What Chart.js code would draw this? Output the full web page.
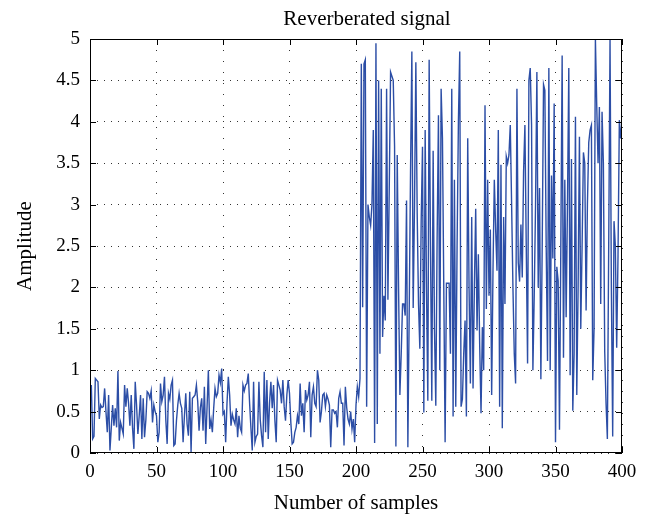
<!DOCTYPE html>
<html>
<head>
<meta charset="utf-8">
<title>Reverberated signal</title>
<script src="https://cdn.jsdelivr.net/npm/chart.js@4.4.1/dist/chart.umd.min.js"></script>
<style>
  html, body { margin: 0; padding: 0; background: #fff; }
  #wrap { width: 658px; height: 517px; }
</style>
</head>
<body>
<div id="wrap"><canvas id="signalChart" width="658" height="517"></canvas></div>
<script>
// Axis ticks
const sampleTicks = [0, 50, 100, 150, 200, 250, 300, 350, 400];
const amplitudeTicks = [0, 0.5, 1, 1.5, 2, 2.5, 3, 3.5, 4, 4.5, 5];

// Samples 1..200 (before the reverberation kicks in)
const quietPart = [
  0.82, 0.17, 0.20, 0.90, 0.88, 0.86, 0.41, 0.58, 0.55, 0.56,
  0.78, 0.50, 0.25, 0.70, 0.03, 0.30, 0.58, 0.33, 0.54, 0.31,
  0.99, 0.15, 0.37, 0.30, 0.23, 0.82, 0.56, 0.78, 0.60, 0.33,
  0.70, 0.30, 0.05, 0.86, 0.58, 0.23, 0.45, 0.70, 0.17, 0.66,
  0.19, 0.40, 0.74, 0.72, 0.66, 0.75, 0.37, 0.58, 0.50, 0.45,
  0.13, 0.25, 0.84, 0.62, 0.70, 0.92, 0.40, 0.11, 0.72, 0.65,
  0.82, 0.88, 0.09, 0.11, 0.39, 0.58, 0.72, 0.60, 0.54, 0.13,
  0.45, 0.72, 0.35, 0.21, 0.74, 0.01, 0.66, 0.68, 0.70, 0.82,
  0.62, 0.27, 0.55, 0.66, 0.27, 0.80, 0.11, 0.55, 1.00, 0.29,
  0.40, 0.25, 0.54, 0.78, 0.68, 0.72, 0.94, 0.85, 1.02, 0.47,
  0.50, 0.13, 0.60, 0.92, 0.70, 0.33, 0.47, 0.40, 0.35, 0.54,
  0.19, 0.45, 0.30, 0.25, 0.82, 0.75, 0.82, 0.84, 0.96, 0.60,
  0.30, 0.03, 0.86, 0.13, 0.20, 0.23, 0.86, 0.40, 0.21, 0.07,
  0.98, 0.25, 0.88, 0.17, 0.60, 0.86, 0.54, 0.82, 0.40, 0.13,
  0.88, 0.82, 0.76, 0.60, 0.88, 0.56, 0.39, 0.70, 0.88, 0.72,
  0.37, 0.11, 0.13, 0.25, 0.31, 0.45, 0.35, 0.84, 0.45, 0.60,
  0.25, 0.76, 0.64, 0.70, 0.86, 0.19, 0.70, 0.80, 0.60, 0.56,
  1.00, 0.88, 0.37, 0.50, 0.70, 0.72, 0.56, 0.70, 0.65, 0.58,
  0.07, 0.52, 0.52, 0.48, 0.50, 0.31, 0.66, 0.74, 0.60, 0.60,
  0.09, 0.80, 0.55, 0.41, 0.35, 0.50, 0.29, 0.41, 0.13, 0.58
];

// Samples 201..400 (reverberated part)
const reverbPart = [
  0.80, 0.68, 0.90, 4.70, 1.76, 4.70, 4.75, 0.56, 3.00, 2.85,
  2.75, 3.00, 3.90, 0.12, 4.95, 0.35, 4.50, 1.20, 4.40, 1.40,
  1.90, 1.60, 4.40, 1.85, 3.20, 4.60, 4.55, 4.50, 3.70, 0.08,
  3.60, 2.00, 0.70, 1.20, 1.80, 1.80, 1.66, 3.05, 0.07, 1.70,
  3.40, 4.85, 1.75, 3.00, 4.72, 2.90, 1.80, 1.26, 2.80, 3.70,
  0.49, 3.90, 2.00, 0.63, 4.75, 2.50, 0.63, 3.65, 1.50, 0.57,
  2.60, 4.08, 1.00, 4.40, 3.80, 2.00, 0.13, 2.05, 2.05, 2.05,
  1.20, 4.40, 0.44, 3.30, 0.56, 2.50, 4.00, 4.85, 0.56, 0.65,
  1.20, 1.60, 0.44, 3.80, 2.00, 0.84, 2.85, 0.78, 2.00, 2.95,
  1.48, 2.40, 1.30, 0.48, 1.52, 1.00, 4.20, 1.74, 3.30, 1.90,
  2.70, 0.70, 2.20, 3.30, 2.70, 2.20, 3.90, 0.56, 3.48, 0.30,
  2.85, 1.80, 3.58, 3.50, 3.60, 3.96, 3.00, 2.00, 1.20, 0.84,
  4.40, 2.30, 2.07, 2.76, 2.12, 3.40, 3.96, 2.50, 1.08, 4.50,
  4.65, 3.96, 1.00, 1.90, 3.00, 4.60, 2.00, 3.20, 0.89, 2.50,
  4.45, 4.38, 2.50, 1.11, 4.65, 1.00, 3.35, 2.35, 4.22, 0.13,
  2.25, 2.08, 0.28, 2.50, 4.80, 1.15, 3.30, 1.64, 3.00, 4.65,
  0.94, 3.55, 0.51, 1.20, 4.06, 0.70, 2.00, 3.82, 1.50, 2.50,
  3.63, 3.50, 1.72, 3.00, 3.75, 3.90, 3.96, 0.88, 1.50, 5.00,
  4.20, 3.50, 4.18, 1.80, 4.12, 3.50, 1.23, 0.60, 0.17, 2.50,
  5.00, 2.00, 0.20, 2.80, 2.50, 1.27, 2.38, 4.02, 3.80, 4.00
];

const amplitude = quietPart.concat(reverbPart);
const points = amplitude.map((v, i) => ({ x: i + 1, y: v }));

const FONT = "'Liberation Serif', 'DejaVu Serif', serif";

// MATLAB-like box with inward tick marks
const boxTicks = {
  id: "boxTicks",
  afterLayout(chart) {
    // the title sits a little right of the axes centre in the original
    if (chart.titleBlock) {
      chart.titleBlock.left = 76;
      chart.titleBlock.right = 658;
    }
  },
  afterDatasetsDraw(chart) {
    const { ctx, chartArea: a, scales } = chart;
    const len = 6;
    ctx.save();
    ctx.strokeStyle = "#000";
    ctx.lineWidth = 1;
    ctx.strokeRect(a.left + 0.5, a.top + 0.5, a.right - a.left - 1, a.bottom - a.top - 1);
    ctx.beginPath();
    sampleTicks.forEach((t) => {
      const px = Math.round(scales.x.getPixelForValue(t)) + 0.5;
      ctx.moveTo(px, a.bottom);
      ctx.lineTo(px, a.bottom - len);
      ctx.moveTo(px, a.top);
      ctx.lineTo(px, a.top + len);
    });
    amplitudeTicks.forEach((t) => {
      const py = Math.round(scales.y.getPixelForValue(t)) + 0.5;
      ctx.moveTo(a.left, py);
      ctx.lineTo(a.left + len, py);
      ctx.moveTo(a.right, py);
      ctx.lineTo(a.right - len, py);
    });
    ctx.stroke();
    ctx.restore();
  }
};

new Chart(document.getElementById("signalChart"), {
  type: "line",
  data: {
    datasets: [
      {
        label: "Reverberated signal",
        data: points,
        borderColor: "#2c4ea6",
        borderWidth: 1.4,
        pointRadius: 0,
        tension: 0,
        fill: false,
      },
    ],
  },
  options: {
    responsive: false,
    animation: false,
    layout: { padding: { left: 0, right: 36, top: 0, bottom: 0 } },
    plugins: {
      legend: { display: false },
      tooltip: { enabled: false },
      title: {
        display: true,
        text: "Reverberated signal",
        color: "#000",
        font: { family: FONT, size: 21, weight: "normal" },
        padding: { top: 7, bottom: 6.8 },
      },
    },
    scales: {
      x: {
        type: "linear",
        min: 0,
        max: 400,
        afterBuildTicks: (scale) => {
          scale.ticks = sampleTicks.map((v) => ({ value: v }));
        },
        afterFit: (scale) => {
          scale.height = 64;
        },
        ticks: {
          color: "#000",
          padding: 8,
          maxRotation: 0,
          font: { family: FONT, size: 19 },
          callback: (v) => String(v),
        },
        grid: { color: "#333", lineWidth: 1, drawTicks: false },
        border: { display: false, dash: [1, 10] },
        title: {
          display: true,
          text: "Number of samples",
          color: "#000",
          font: { family: FONT, size: 21 },
          padding: { top: 0, bottom: 1 },
        },
      },
      y: {
        type: "linear",
        min: 0,
        max: 5,
        afterBuildTicks: (scale) => {
          scale.ticks = amplitudeTicks.map((v) => ({ value: v }));
        },
        afterFit: (scale) => {
          scale.width = 90;
        },
        ticks: {
          color: "#000",
          padding: 10,
          font: { family: FONT, size: 19 },
          callback: (v) => String(v),
        },
        grid: { color: "#333", lineWidth: 1, drawTicks: false },
        border: { display: false, dash: [1, 6] },
        title: {
          display: true,
          text: "Amplitude",
          color: "#000",
          font: { family: FONT, size: 21 },
          padding: { top: 13, bottom: 0 },
        },
      },
    },
  },
  plugins: [boxTicks],
});
</script>
</body>
</html>
